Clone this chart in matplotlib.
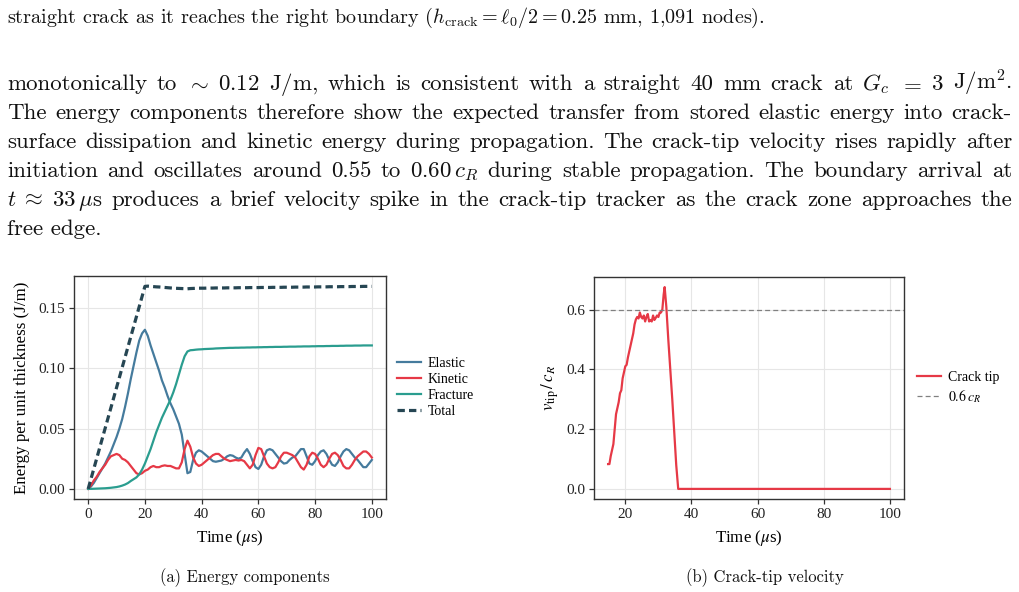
import matplotlib
matplotlib.use("Agg")
import matplotlib.pyplot as plt

# ---------------- data ----------------
time_us = list(range(0, 101))

elastic = [0.000, 0.002, 0.005, 0.009, 0.013, 0.017, 0.021, 0.026, 0.031, 0.037,
           0.043, 0.050, 0.058, 0.068, 0.079, 0.091, 0.102, 0.113, 0.123, 0.129,
           0.132, 0.127, 0.119, 0.112, 0.105, 0.098, 0.090, 0.084, 0.077, 0.071,
           0.066, 0.060, 0.054, 0.045, 0.029, 0.013, 0.014, 0.024, 0.030, 0.032,
           0.031, 0.029, 0.027, 0.025, 0.023, 0.0225, 0.023, 0.0235, 0.025, 0.027,
           0.028, 0.0275, 0.026, 0.025, 0.026, 0.030, 0.033, 0.029, 0.023, 0.018,
           0.0165, 0.020, 0.027, 0.032, 0.033, 0.032, 0.029, 0.026, 0.023, 0.021,
           0.0215, 0.024, 0.026, 0.027, 0.030, 0.033, 0.033, 0.027, 0.021, 0.020,
           0.023, 0.028, 0.031, 0.032, 0.029, 0.024, 0.020, 0.019, 0.022, 0.027,
           0.031, 0.033, 0.032, 0.029, 0.026, 0.024, 0.021, 0.018, 0.018, 0.021,
           0.024]

kinetic = [0.000, 0.003, 0.007, 0.010, 0.014, 0.017, 0.020, 0.024, 0.027, 0.028,
           0.029, 0.028, 0.025, 0.024, 0.022, 0.019, 0.016, 0.013, 0.012, 0.013,
           0.015, 0.016, 0.018, 0.019, 0.018, 0.018, 0.019, 0.0195, 0.019, 0.019,
           0.018, 0.017, 0.017, 0.022, 0.033, 0.040, 0.035, 0.026, 0.021, 0.019,
           0.020, 0.022, 0.024, 0.026, 0.028, 0.029, 0.029, 0.027, 0.025, 0.024,
           0.023, 0.0235, 0.024, 0.0235, 0.024, 0.023, 0.020, 0.017, 0.020, 0.028,
           0.034, 0.033, 0.027, 0.021, 0.018, 0.017, 0.018, 0.022, 0.027, 0.030,
           0.030, 0.029, 0.028, 0.026, 0.022, 0.018, 0.016, 0.020, 0.027, 0.030,
           0.029, 0.025, 0.020, 0.018, 0.020, 0.025, 0.029, 0.030, 0.028, 0.024,
           0.019, 0.017, 0.017, 0.020, 0.024, 0.027, 0.029, 0.031, 0.031, 0.029,
           0.026]

fracture = [0.0000, 0.0000, 0.0001, 0.0002, 0.0003, 0.0004, 0.0005, 0.0007, 0.0009, 0.0012,
            0.0015, 0.0020, 0.0027, 0.0036, 0.0048, 0.0065, 0.0080, 0.0095, 0.0120, 0.0160,
            0.0210, 0.0270, 0.0330, 0.0400, 0.0470, 0.0530, 0.0590, 0.0640, 0.0690, 0.0740,
            0.0800, 0.0870, 0.0950, 0.1030, 0.1100, 0.1140, 0.1150, 0.1152, 0.1155, 0.1157,
            0.1158, 0.1160, 0.1161, 0.1162, 0.1163, 0.1165, 0.1166, 0.1167, 0.1168, 0.1169,
            0.1170, 0.1170, 0.1171, 0.1171, 0.1172, 0.1172, 0.1173, 0.1173, 0.1174, 0.1174,
            0.1175, 0.1175, 0.1176, 0.1176, 0.1177, 0.1177, 0.1178, 0.1178, 0.1178, 0.1179,
            0.1179, 0.1180, 0.1180, 0.1180, 0.1181, 0.1181, 0.1182, 0.1182, 0.1182, 0.1183,
            0.1183, 0.1184, 0.1184, 0.1184, 0.1185, 0.1185, 0.1186, 0.1186, 0.1186, 0.1187,
            0.1187, 0.1188, 0.1188, 0.1188, 0.1189, 0.1189, 0.1189, 0.1190, 0.1190, 0.1190,
            0.1190]

total = [0.0000, 0.0084, 0.0168, 0.0252, 0.0336, 0.0420, 0.0504, 0.0588, 0.0672, 0.0756,
         0.0840, 0.0924, 0.1008, 0.1092, 0.1176, 0.1260, 0.1344, 0.1428, 0.1512, 0.1596,
         0.1680, 0.1682, 0.1680, 0.1678, 0.1676, 0.1675, 0.1673, 0.1671, 0.1669, 0.1667,
         0.1665, 0.1664, 0.1663, 0.1662, 0.1661, 0.1660, 0.1662, 0.1663, 0.1664, 0.1665,
         0.1665, 0.1665, 0.1666, 0.1666, 0.1666, 0.1667, 0.1667, 0.1667, 0.1667, 0.1668,
         0.1668, 0.1668, 0.1668, 0.1669, 0.1669, 0.1669, 0.1669, 0.1670, 0.1670, 0.1670,
         0.1670, 0.1671, 0.1671, 0.1671, 0.1671, 0.1672, 0.1672, 0.1672, 0.1672, 0.1673,
         0.1673, 0.1673, 0.1673, 0.1674, 0.1674, 0.1674, 0.1674, 0.1675, 0.1675, 0.1675,
         0.1675, 0.1676, 0.1676, 0.1676, 0.1676, 0.1677, 0.1677, 0.1677, 0.1677, 0.1678,
         0.1678, 0.1678, 0.1678, 0.1679, 0.1679, 0.1679, 0.1679, 0.1680, 0.1680, 0.1680,
         0.1680]

tip_time_us = [14.8, 15.2, 15.6, 16.0, 16.4, 16.8, 17.2, 17.6, 18.0, 18.4,
               18.8, 19.2, 19.6, 20.0, 20.4, 20.8, 21.2, 21.6, 22.0, 22.4,
               22.8, 23.2, 23.6, 24.0, 24.4, 24.8, 25.2, 25.6, 26.0, 26.4,
               26.8, 27.2, 27.6, 28.0, 28.4, 28.8, 29.2, 29.6, 30.0, 30.4,
               30.8, 31.2, 31.6, 31.9, 32.4, 33.0, 33.6, 34.2, 34.8, 35.4,
               36.0, 100.0]
tip_velocity = [0.083, 0.083, 0.110, 0.130, 0.150, 0.200, 0.250, 0.270, 0.290, 0.320,
                0.330, 0.370, 0.390, 0.410, 0.415, 0.440, 0.460, 0.480, 0.500, 0.520,
                0.550, 0.567, 0.575, 0.570, 0.590, 0.575, 0.570, 0.580, 0.560, 0.575,
                0.585, 0.560, 0.565, 0.560, 0.580, 0.565, 0.572, 0.580, 0.575, 0.590,
                0.590, 0.600, 0.650, 0.675, 0.610, 0.500, 0.400, 0.300, 0.190, 0.080,
                0.000, 0.000]
ref_velocity = 0.6

energy_labels = ["Elastic", "Kinetic", "Fracture", "Total"]
energy_colors = ["#457B9D", "#E63946", "#2A9D8F", "#264653"]
energy_xticks = [0, 20, 40, 60, 80, 100]
energy_yticks = [0.00, 0.05, 0.10, 0.15]
tip_xticks = [20, 40, 60, 80, 100]
tip_yticks = [0.0, 0.2, 0.4, 0.6]

top_line = (r"straight crack as it reaches the right boundary "
            r"($h_{\mathrm{crack}}=\ell_0/2=0.25$ mm, 1,091 nodes).")
para_lines = [
    r"monotonically to $\sim$ $0.12$ J$/$m, which is consistent with a straight 40 mm crack at $G_c$ $=$ $3$ J$/$m$^2$.",
    r"The energy components therefore show the expected transfer from stored elastic energy into crack-",
    r"surface dissipation and kinetic energy during propagation. The crack-tip velocity rises rapidly after",
    r"initiation and oscillates around 0.55 to 0.60$\,c_R$ during stable propagation. The boundary arrival at",
    r"$t\;\approx\;33\,\mu$s produces a brief velocity spike in the crack-tip tracker as the crack zone approaches the",
    r"free edge.",
]
caption_a = "(a) Energy components"
caption_b = "(b) Crack-tip velocity"

# ---------------- figure ----------------
W, H = 1019, 592
plt.rcParams["mathtext.fontset"] = "stix"
plt.rcParams["font.family"] = ["Liberation Serif", "DejaVu Serif"]
fig = plt.figure(figsize=(W / 100, H / 100), dpi=100)
renderer = fig.canvas.get_renderer()

DOC = dict(family="cmr10", math_fontfamily="cm", color="#111111")


def width_px(s, size):
    t = fig.text(0, 0, s, fontsize=size, **DOC)
    w = t.get_window_extent(renderer).width
    t.remove()
    return w


def put(s, x, y, size, ha="left"):
    return fig.text(x / W, 1 - y / H, s, fontsize=size, ha=ha, va="baseline", **DOC)


# caption-sized first line spans 7..765 px
small = 17.5 * 758.0 / width_px(top_line, 17.5)
put(top_line, 7, 23, small)

# body size fitted to the widths of "monotonically" (140 px) and "free edge." (95 px)
body = 17.5 * 0.5 * (140.0 / width_px("monotonically", 17.5)
                     + 95.0 / width_px("free edge.", 17.5))

x0, x1 = 7, 1012
for i, line in enumerate(para_lines):
    y = 90 + 29 * i
    if i == len(para_lines) - 1:
        put(line, x0, y, body)
        continue
    words = line.split(" ")
    ws = [width_px(w, body) for w in words]
    gap = (x1 - x0 - sum(ws)) / (len(words) - 1)
    x = x0
    for w, wd in zip(words, ws):
        put(w, x, y, body)
        x += wd + gap

cap = 12.0 * 170.0 / width_px(caption_a, 12.0)
put(caption_a, 245, 582, cap, ha="center")
put(caption_b, 765, 582, cap, ha="center")

# ---------------- axes ----------------
def px_axes(l, t, r, b):
    return fig.add_axes([l / W, 1 - b / H, (r - l) / W, (b - t) / H])


def style(ax):
    ax.set_axisbelow(True)
    ax.grid(True, color="#e6e6e6", lw=0.8)
    for s in ax.spines.values():
        s.set_color("#333333")
        s.set_linewidth(1.0)
    ax.tick_params(labelsize=11, length=3.5, width=0.9, color="#333333",
                   labelcolor="#222222", pad=3)


ax1 = px_axes(74, 276, 386, 499)
style(ax1)
ax1.plot(time_us, elastic, color=energy_colors[0], lw=1.6, label=energy_labels[0])
ax1.plot(time_us, kinetic, color=energy_colors[1], lw=1.6, label=energy_labels[1])
ax1.plot(time_us, fracture, color=energy_colors[2], lw=1.6, label=energy_labels[2])
ax1.plot(time_us, total, color=energy_colors[3], lw=2.3, ls=(0, (2.3, 1.3)),
         label=energy_labels[3])
ax1.set_xticks(energy_xticks)
ax1.set_yticks(energy_yticks)
ax1.set_yticklabels([f"{v:.2f}" for v in energy_yticks])
ax1.set_xlabel(r"Time ($\mu$s)", fontsize=12.2)
ax1.set_ylabel("Energy per unit thickness (J/m)", fontsize=12.2)
ax1.xaxis.set_label_coords(0.5, -0.13)
ax1.yaxis.set_label_coords(-0.14, 0.5)
ax1.legend(loc="center left", bbox_to_anchor=(1.035, 0.5), frameon=False,
           fontsize=10, borderpad=0, borderaxespad=0, handlelength=1.75,
           handletextpad=0.45, labelspacing=0.22)

ax2 = px_axes(594, 277, 904, 499)
style(ax2)
ax2.plot(tip_time_us, tip_velocity, color=energy_colors[1], lw=1.6, label="Crack tip")
ax2.axhline(ref_velocity, color="#808080", lw=0.9, ls=(0, (4, 2.5)),
            label=r"$0.6\,c_R$")
ax2.set_xticks(tip_xticks)
ax2.set_yticks(tip_yticks)
ax2.set_yticklabels([f"{v:.1f}" for v in tip_yticks])
ax2.set_xlabel(r"Time ($\mu$s)", fontsize=12.2)
ax2.set_ylabel(r"$v_{\mathrm{tip}}\,/\,c_R$", fontsize=12.2)
ax2.xaxis.set_label_coords(0.5, -0.13)
ax2.yaxis.set_label_coords(-0.105, 0.5)
ax2.legend(loc="center left", bbox_to_anchor=(1.042, 0.5), frameon=False,
           fontsize=10, borderpad=0, borderaxespad=0, handlelength=1.75,
           handletextpad=0.45, labelspacing=0.3)

fig.savefig("out.png", dpi=100)
